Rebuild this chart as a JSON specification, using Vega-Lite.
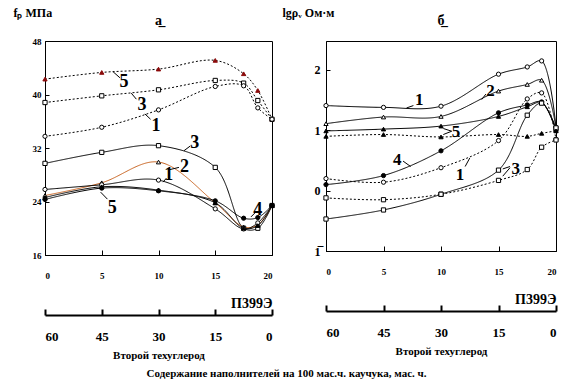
{
  "$schema": "https://vega.github.io/schema/vega-lite/v6.json",
  "padding": {"left": 12, "top": 5, "right": 6, "bottom": 2},
  "config": {
    "font": "Liberation Serif, Times New Roman, serif",
    "view": {"stroke": "black", "strokeWidth": 1},
    "axis": {"grid": false, "labelFont": "Liberation Serif, Times New Roman, serif", "labelFontWeight": "bold", "titleFont": "Liberation Serif, Times New Roman, serif", "titleFontWeight": "bold", "domainColor": "black", "tickColor": "black", "labelColor": "black", "titleColor": "black"},
    "title": {"font": "Liberation Serif, Times New Roman, serif", "fontWeight": "bold", "color": "black"},
    "text": {"font": "Liberation Serif, Times New Roman, serif"}
  },
  "title": {"text": "Содержание наполнителей на 100 мас.ч. каучука, мас. ч.", "orient": "bottom", "anchor": "middle", "fontSize": 11, "offset": 7},
  "spacing": 4,
  "datasets": {
    "aLines": [
      {"k": "a-d5", "c": "5", "st": "dotted", "x": 0, "y": 42.3}, {"k": "a-d5", "c": "5", "st": "dotted", "x": 5, "y": 43.3}, {"k": "a-d5", "c": "5", "st": "dotted", "x": 10, "y": 43.8}, {"k": "a-d5", "c": "5", "st": "dotted", "x": 15, "y": 45.1}, {"k": "a-d5", "c": "5", "st": "dotted", "x": 17.5, "y": 43.1}, {"k": "a-d5", "c": "5", "st": "dotted", "x": 18.75, "y": 40.6}, {"k": "a-d5", "c": "5", "st": "dotted", "x": 20, "y": 36.3},
      {"k": "a-d3", "c": "3", "st": "dotted", "x": 0, "y": 38.8}, {"k": "a-d3", "c": "3", "st": "dotted", "x": 5, "y": 39.8}, {"k": "a-d3", "c": "3", "st": "dotted", "x": 10, "y": 40.7}, {"k": "a-d3", "c": "3", "st": "dotted", "x": 15, "y": 42.1}, {"k": "a-d3", "c": "3", "st": "dotted", "x": 17.5, "y": 41.7}, {"k": "a-d3", "c": "3", "st": "dotted", "x": 18.75, "y": 39.1}, {"k": "a-d3", "c": "3", "st": "dotted", "x": 20, "y": 36.3},
      {"k": "a-d1", "c": "1", "st": "dotted", "x": 0, "y": 33.75}, {"k": "a-d1", "c": "1", "st": "dotted", "x": 5, "y": 35.1}, {"k": "a-d1", "c": "1", "st": "dotted", "x": 10, "y": 37.7}, {"k": "a-d1", "c": "1", "st": "dotted", "x": 15, "y": 41.2}, {"k": "a-d1", "c": "1", "st": "dotted", "x": 17.5, "y": 41.3}, {"k": "a-d1", "c": "1", "st": "dotted", "x": 18.75, "y": 38.0}, {"k": "a-d1", "c": "1", "st": "dotted", "x": 20, "y": 36.3},
      {"k": "a-s3", "c": "3", "st": "solid", "x": 0, "y": 29.7}, {"k": "a-s3", "c": "3", "st": "solid", "x": 5, "y": 31.35}, {"k": "a-s3", "c": "3", "st": "solid", "x": 10, "y": 32.35}, {"k": "a-s3", "c": "3", "st": "solid", "x": 15, "y": 29.1}, {"k": "a-s3", "c": "3", "st": "solid", "x": 17.5, "y": 20.0}, {"k": "a-s3", "c": "3", "st": "solid", "x": 18.75, "y": 20.0}, {"k": "a-s3", "c": "3", "st": "solid", "x": 20, "y": 23.4},
      {"k": "a-s2", "c": "2", "st": "solid", "x": 0, "y": 24.9}, {"k": "a-s2", "c": "2", "st": "solid", "x": 5, "y": 26.8}, {"k": "a-s2", "c": "2", "st": "solid", "x": 10, "y": 29.9}, {"k": "a-s2", "c": "2", "st": "solid", "x": 15, "y": 23.8}, {"k": "a-s2", "c": "2", "st": "solid", "x": 17.5, "y": 20.2}, {"k": "a-s2", "c": "2", "st": "solid", "x": 18.75, "y": 20.5}, {"k": "a-s2", "c": "2", "st": "solid", "x": 20, "y": 23.4},
      {"k": "a-s1", "c": "1", "st": "solid", "x": 0, "y": 25.8}, {"k": "a-s1", "c": "1", "st": "solid", "x": 5, "y": 26.5}, {"k": "a-s1", "c": "1", "st": "solid", "x": 10, "y": 27.2}, {"k": "a-s1", "c": "1", "st": "solid", "x": 15, "y": 22.9}, {"k": "a-s1", "c": "1", "st": "solid", "x": 17.5, "y": 19.9}, {"k": "a-s1", "c": "1", "st": "solid", "x": 18.75, "y": 20.8}, {"k": "a-s1", "c": "1", "st": "solid", "x": 20, "y": 23.4},
      {"k": "a-s4", "c": "4", "st": "solid", "x": 0, "y": 24.3}, {"k": "a-s4", "c": "4", "st": "solid", "x": 5, "y": 26.0}, {"k": "a-s4", "c": "4", "st": "solid", "x": 10, "y": 25.6}, {"k": "a-s4", "c": "4", "st": "solid", "x": 15, "y": 24.1}, {"k": "a-s4", "c": "4", "st": "solid", "x": 17.5, "y": 21.5}, {"k": "a-s4", "c": "4", "st": "solid", "x": 18.75, "y": 21.6}, {"k": "a-s4", "c": "4", "st": "solid", "x": 20, "y": 23.4},
      {"k": "a-s5", "c": "5", "st": "solid", "x": 0, "y": 24.6}, {"k": "a-s5", "c": "5", "st": "solid", "x": 5, "y": 26.2}, {"k": "a-s5", "c": "5", "st": "solid", "x": 10, "y": 25.7}, {"k": "a-s5", "c": "5", "st": "solid", "x": 15, "y": 23.8}, {"k": "a-s5", "c": "5", "st": "solid", "x": 17.5, "y": 20.0}, {"k": "a-s5", "c": "5", "st": "solid", "x": 18.75, "y": 20.4}, {"k": "a-s5", "c": "5", "st": "solid", "x": 20, "y": 23.4}
    ],
    "bLines": [
      {"k": "b-s1", "c": "1", "st": "solid", "x": 0, "y": 1.41}, {"k": "b-s1", "c": "1", "st": "solid", "x": 5, "y": 1.38}, {"k": "b-s1", "c": "1", "st": "solid", "x": 10, "y": 1.40}, {"k": "b-s1", "c": "1", "st": "solid", "x": 15, "y": 1.93}, {"k": "b-s1", "c": "1", "st": "solid", "x": 17.5, "y": 2.05}, {"k": "b-s1", "c": "1", "st": "solid", "x": 18.75, "y": 2.15}, {"k": "b-s1", "c": "1", "st": "solid", "x": 20, "y": 1.05},
      {"k": "b-s2", "c": "2", "st": "solid", "x": 0, "y": 1.11}, {"k": "b-s2", "c": "2", "st": "solid", "x": 5, "y": 1.22}, {"k": "b-s2", "c": "2", "st": "solid", "x": 10, "y": 1.23}, {"k": "b-s2", "c": "2", "st": "solid", "x": 15, "y": 1.65}, {"k": "b-s2", "c": "2", "st": "solid", "x": 17.5, "y": 1.76}, {"k": "b-s2", "c": "2", "st": "solid", "x": 18.75, "y": 1.83}, {"k": "b-s2", "c": "2", "st": "solid", "x": 20, "y": 1.05},
      {"k": "b-s5", "c": "5", "st": "solid", "x": 0, "y": 0.99}, {"k": "b-s5", "c": "5", "st": "solid", "x": 5, "y": 1.02}, {"k": "b-s5", "c": "5", "st": "solid", "x": 10, "y": 1.07}, {"k": "b-s5", "c": "5", "st": "solid", "x": 15, "y": 1.23}, {"k": "b-s5", "c": "5", "st": "solid", "x": 17.5, "y": 1.39}, {"k": "b-s5", "c": "5", "st": "solid", "x": 18.75, "y": 1.46}, {"k": "b-s5", "c": "5", "st": "solid", "x": 20, "y": 1.0},
      {"k": "b-s4", "c": "4", "st": "solid", "x": 0, "y": 0.10}, {"k": "b-s4", "c": "4", "st": "solid", "x": 5, "y": 0.25}, {"k": "b-s4", "c": "4", "st": "solid", "x": 10, "y": 0.66}, {"k": "b-s4", "c": "4", "st": "solid", "x": 15, "y": 1.29}, {"k": "b-s4", "c": "4", "st": "solid", "x": 17.5, "y": 1.42}, {"k": "b-s4", "c": "4", "st": "solid", "x": 18.75, "y": 1.47}, {"k": "b-s4", "c": "4", "st": "solid", "x": 20, "y": 1.0},
      {"k": "b-s3", "c": "3", "st": "solid", "x": 0, "y": -0.47}, {"k": "b-s3", "c": "3", "st": "solid", "x": 5, "y": -0.32}, {"k": "b-s3", "c": "3", "st": "solid", "x": 10, "y": -0.06}, {"k": "b-s3", "c": "3", "st": "solid", "x": 15, "y": 0.34}, {"k": "b-s3", "c": "3", "st": "solid", "x": 17.5, "y": 1.25}, {"k": "b-s3", "c": "3", "st": "solid", "x": 18.75, "y": 1.45}, {"k": "b-s3", "c": "3", "st": "solid", "x": 20, "y": 1.04},
      {"k": "b-d5", "c": "5", "st": "dotted", "x": 0, "y": 0.90}, {"k": "b-d5", "c": "5", "st": "dotted", "x": 5, "y": 0.93}, {"k": "b-d5", "c": "5", "st": "dotted", "x": 10, "y": 0.89}, {"k": "b-d5", "c": "5", "st": "dotted", "x": 15, "y": 0.93}, {"k": "b-d5", "c": "5", "st": "dotted", "x": 17.5, "y": 0.90}, {"k": "b-d5", "c": "5", "st": "dotted", "x": 18.75, "y": 0.95}, {"k": "b-d5", "c": "5", "st": "dotted", "x": 20, "y": 0.99},
      {"k": "b-d1", "c": "1", "st": "dotted", "x": 0, "y": 0.20}, {"k": "b-d1", "c": "1", "st": "dotted", "x": 5, "y": 0.14}, {"k": "b-d1", "c": "1", "st": "dotted", "x": 10, "y": 0.38}, {"k": "b-d1", "c": "1", "st": "dotted", "x": 15, "y": 0.83}, {"k": "b-d1", "c": "1", "st": "dotted", "x": 17.5, "y": 1.52}, {"k": "b-d1", "c": "1", "st": "dotted", "x": 18.75, "y": 1.62}, {"k": "b-d1", "c": "1", "st": "dotted", "x": 20, "y": 0.85},
      {"k": "b-d3", "c": "3", "st": "dotted", "x": 0, "y": -0.12}, {"k": "b-d3", "c": "3", "st": "dotted", "x": 5, "y": -0.15}, {"k": "b-d3", "c": "3", "st": "dotted", "x": 10, "y": -0.06}, {"k": "b-d3", "c": "3", "st": "dotted", "x": 15, "y": 0.17}, {"k": "b-d3", "c": "3", "st": "dotted", "x": 17.5, "y": 0.35}, {"k": "b-d3", "c": "3", "st": "dotted", "x": 18.75, "y": 0.72}, {"k": "b-d3", "c": "3", "st": "dotted", "x": 20, "y": 0.84}
    ],
    "aLabels": [
      {"t": "5", "x": 6.96, "y": 41.9, "sz": "big"}, {"t": "3", "x": 8.55, "y": 38.4, "sz": "big"}, {"t": "1", "x": 9.78, "y": 35.3, "sz": "big"},
      {"t": "3", "x": 13.2, "y": 32.75, "sz": "big"}, {"t": "2", "x": 12.3, "y": 29.1, "sz": "big"}, {"t": "1", "x": 10.9, "y": 27.9, "sz": "big"},
      {"t": "5", "x": 5.93, "y": 23.1, "sz": "big"}, {"t": "4", "x": 18.75, "y": 22.7, "sz": "small"}
    ],
    "aLeaders": [
      {"x": 6.0, "y": 43.4, "x2": 6.6, "y2": 42.5}, {"x": 7.6, "y": 40.2, "x2": 8.05, "y2": 39.3}, {"x": 8.8, "y": 37.1, "x2": 9.3, "y2": 36.3},
      {"x": 12.25, "y": 31.6, "x2": 12.8, "y2": 32.3}, {"x": 10.95, "y": 28.75, "x2": 11.8, "y2": 29.1}, {"x": 10.4, "y": 26.9, "x2": 10.7, "y2": 27.5},
      {"x": 4.9, "y": 25.4, "x2": 5.5, "y2": 24.35}, {"x": 18.15, "y": 21.7, "x2": 18.5, "y2": 22.3}
    ],
    "bLabels": [
      {"t": "1", "x": 8.1, "y": 1.50}, {"t": "2", "x": 14.3, "y": 1.65}, {"t": "5", "x": 11.3, "y": 0.97},
      {"t": "4", "x": 6.2, "y": 0.50}, {"t": "1", "x": 11.65, "y": 0.26}, {"t": "3", "x": 16.5, "y": 0.36}
    ],
    "bLeaders": [
      {"x": 7.0, "y": 1.37, "x2": 7.6, "y2": 1.41}, {"x": 13.54, "y": 1.51, "x2": 13.9, "y2": 1.6},
      {"x": 10.2, "y": 1.03, "x2": 10.93, "y2": 0.985}, {"x": 10.2, "y": 0.93, "x2": 10.93, "y2": 0.985},
      {"x": 6.7, "y": 0.49, "x2": 7.36, "y2": 0.40}, {"x": 12.1, "y": 0.40, "x2": 12.5, "y2": 0.54},
      {"x": 15.37, "y": 0.36, "x2": 16.0, "y2": 0.40}, {"x": 15.37, "y": 0.24, "x2": 16.0, "y2": 0.38}
    ],
    "second": [{"t": 60}, {"t": 0}]
  },
  "hconcat": [
    {
      "width": 227, "height": 214,
      "title": {"text": "а̲", "fontSize": 14, "offset": -22},
      "layer": [
        {
          "encoding": {
            "x": {"field": "x", "type": "quantitative", "scale": {"domain": [0, 20], "nice": false},
              "axis": {"values": [0, 5, 10, 15, 20], "tickSize": -5, "labelPadding": 21, "labelFontSize": 9, "title": "П399Э", "titleAnchor": "end", "titleFontSize": 14, "titlePadding": 16}},
            "y": {"field": "y", "type": "quantitative", "scale": {"domain": [16, 48], "nice": false},
              "axis": {"values": [16, 24, 32, 40, 48], "tickSize": -4, "labelPadding": 8, "labelFontSize": 9, "title": "fₚ    МПа", "titleAngle": 0, "titleAlign": "left", "titleBaseline": "bottom", "titleX": -32, "titleY": -22, "titleFontSize": 12}}
          },
          "layer": [
            {"data": {"name": "aLines"}, "mark": {"type": "line", "interpolate": "catmull-rom", "strokeWidth": 1},
              "encoding": {
                "color": {"field": "k", "type": "nominal", "legend": null, "scale": {"domain": ["a-s2", "a-s1", "a-s3", "a-s4", "a-s5", "a-d1", "a-d3", "a-d5"], "range": ["#c8621e", "black", "black", "black", "black", "black", "black", "black"]}},
                "strokeDash": {"field": "st", "type": "nominal", "legend": null, "scale": {"domain": ["solid", "dotted"], "range": [[1, 0], [2, 2]]}},
                "detail": {"field": "k"}
              }},
            {"data": {"name": "aLines"}, "mark": {"type": "point", "filled": false, "strokeWidth": 1, "opacity": 1},
              "encoding": {
                "shape": {"field": "c", "type": "nominal", "legend": null, "scale": {"domain": ["1", "2", "3", "4", "5"], "range": ["circle", "triangle-up", "square", "circle", "triangle-up"]}},
                "size": {"field": "c", "type": "nominal", "legend": null, "scale": {"domain": ["1", "2", "3", "4", "5"], "range": [18, 18, 28, 18, 18]}},
                "fill": {"field": "k", "type": "nominal", "legend": null, "scale": {"domain": ["a-s2", "a-s1", "a-s3", "a-s4", "a-s5", "a-d1", "a-d3", "a-d5"], "range": ["white", "white", "white", "black", "black", "white", "white", "#8b0a0a"]}},
                "stroke": {"field": "k", "type": "nominal", "legend": null, "scale": {"domain": ["a-s2", "a-s1", "a-s3", "a-s4", "a-s5", "a-d1", "a-d3", "a-d5"], "range": ["black", "black", "black", "black", "black", "black", "black", "#8b0a0a"]}}
              }},
            {"data": {"name": "aLeaders"}, "mark": {"type": "rule", "color": "black", "strokeWidth": 1},
              "encoding": {"x2": {"field": "x2"}, "y2": {"field": "y2"}}},
            {"data": {"name": "aLabels"}, "mark": {"type": "text", "fontWeight": "bold", "color": "black"},
              "encoding": {"text": {"field": "t"}, "size": {"field": "sz", "type": "nominal", "legend": null, "scale": {"domain": ["big", "small"], "range": [17, 11]}}}}
          ]
        },
        {
          "data": {"name": "second"},
          "mark": {"type": "rule", "opacity": 0},
          "encoding": {
            "x": {"field": "t", "type": "quantitative", "scale": {"domain": [60, 0], "nice": false},
              "axis": {"orient": "bottom", "offset": 60, "values": [60, 45, 30, 15, 0], "tickSize": -6, "tickWidth": 2, "domainWidth": 2, "labelPadding": 21, "labelFontSize": 13, "title": "Второй техуглерод", "titleFontSize": 11, "titlePadding": 6}}
          }
        }
      ],
      "resolve": {"scale": {"x": "independent"}, "axis": {"x": "independent"}}
    },
    {
      "width": 230, "height": 210,
      "title": {"text": "б̲", "fontSize": 14, "offset": -22},
      "layer": [
        {
          "encoding": {
            "x": {"field": "x", "type": "quantitative", "scale": {"domain": [0, 20], "nice": false},
              "axis": {"values": [0, 5, 10, 15, 20], "tickSize": -5, "labelPadding": 21, "labelFontSize": 9, "title": "П399Э", "titleAnchor": "end", "titleFontSize": 14, "titlePadding": 16}},
            "y": {"field": "y", "type": "quantitative", "scale": {"domain": [-1, 2.48], "nice": false},
              "axis": {"values": [-1, 0, 1, 2], "tickSize": -4, "labelPadding": 10, "labelFontSize": 12, "labelExpr": "datum.value == -1 ? '1̅' : datum.label", "title": "lgρᵥ    Ом·м", "titleAngle": 0, "titleAlign": "left", "titleBaseline": "bottom", "titleX": -44, "titleY": -22, "titleFontSize": 12}}
          },
          "layer": [
            {"data": {"name": "bLines"}, "mark": {"type": "line", "interpolate": "catmull-rom", "strokeWidth": 1, "color": "black"},
              "encoding": {
                "strokeDash": {"field": "st", "type": "nominal", "legend": null, "scale": {"domain": ["solid", "dotted"], "range": [[1, 0], [2, 2]]}},
                "detail": {"field": "k"}
              }},
            {"data": {"name": "bLines"}, "mark": {"type": "point", "filled": false, "strokeWidth": 1, "opacity": 1, "stroke": "black"},
              "encoding": {
                "shape": {"field": "c", "type": "nominal", "legend": null, "scale": {"domain": ["1", "2", "3", "4", "5"], "range": ["circle", "triangle-up", "square", "circle", "triangle-up"]}},
                "size": {"field": "c", "type": "nominal", "legend": null, "scale": {"domain": ["1", "2", "3", "4", "5"], "range": [22, 18, 30, 20, 18]}},
                "fill": {"field": "c", "type": "nominal", "legend": null, "scale": {"domain": ["1", "2", "3", "4", "5"], "range": ["white", "white", "white", "black", "black"]}}
              }},
            {"data": {"name": "bLeaders"}, "mark": {"type": "rule", "color": "black", "strokeWidth": 1},
              "encoding": {"x2": {"field": "x2"}, "y2": {"field": "y2"}}},
            {"data": {"name": "bLabels"}, "mark": {"type": "text", "fontWeight": "bold", "color": "black", "fontSize": 17},
              "encoding": {"text": {"field": "t"}}}
          ]
        },
        {
          "data": {"name": "second"},
          "mark": {"type": "rule", "opacity": 0},
          "encoding": {
            "x": {"field": "t", "type": "quantitative", "scale": {"domain": [60, 0], "nice": false},
              "axis": {"orient": "bottom", "offset": 60, "values": [60, 45, 30, 15, 0], "tickSize": -6, "tickWidth": 2, "domainWidth": 2, "labelPadding": 21, "labelFontSize": 13, "title": "Второй техуглерод", "titleFontSize": 11, "titlePadding": 6}}
          }
        }
      ],
      "resolve": {"scale": {"x": "independent"}, "axis": {"x": "independent"}}
    }
  ]
}
